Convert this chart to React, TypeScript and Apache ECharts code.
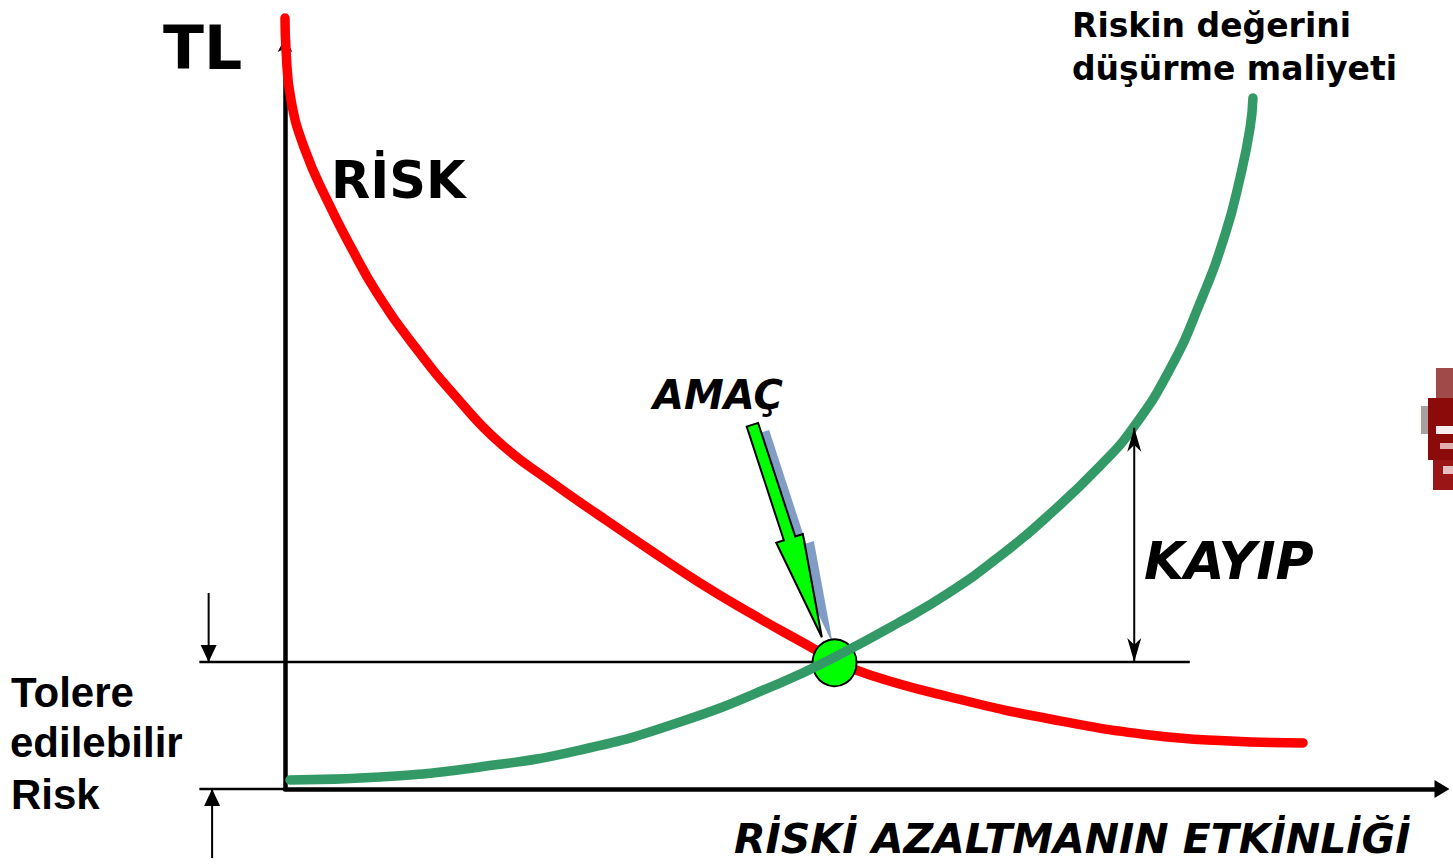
import { useEffect, useRef } from "react";
import * as echarts from "echarts";

// ---- data (x: risk reduction effectiveness 0..100, y: TL 0..100) ----
const riskX = [0, 0.09, 0.52, 1.73, 3.63, 5.79, 7.95, 11.24, 14.87, 18.58, 22.9, 27.23, 31.55, 35.87, 40.19, 44.51, 47.54, 50.56, 57.48, 66.12, 74.76, 81.68, 87.99];
const riskY = [102.66, 98.4, 91.74, 85.09, 78.43, 71.9, 66.05, 58.86, 52.06, 46.07, 41.01, 36.35, 31.82, 27.43, 23.44, 19.71, 17.18, 15.18, 12.25, 9.32, 7.19, 6.39, 6.13];

const costX = [0.43, 8.21, 16.85, 25.5, 34.14, 42.78, 47.54, 53.15, 57.48, 61.8, 66.12, 70.44, 73.29, 76.49, 79.08, 81.24, 82.54, 83.41, 83.66];
const costY = [1.2, 1.6, 2.93, 5.19, 8.92, 14.11, 17.58, 22.24, 26.23, 31.03, 36.62, 43.01, 48.07, 55.93, 64.71, 73.77, 81.36, 88.02, 92.01];

const toleranceLevel = 16.9;
const toleranceFrom = -7.4;
const toleranceTo = 78.2;
// [xFrom, xTo, y]
const guideLines = [
  [toleranceFrom, toleranceTo, toleranceLevel],
  [toleranceFrom, 0, 0],
];
const goalPoint = [47.5, 16.8];
const goalArrowTail = [40.4, 48.5];
const goalArrowTip = [46.4, 20.2];
// [x, yFrom, yTo, kind] kind 0 = double barbed, 1 = single filled head at yTo
const dimensionArrows = [
  [73.4, 48.1, 16.9, 0],
  [-6.6, 26.1, 16.9, 1],
  [-6.3, -9.2, 0, 1],
];

const yAxisTitle = "TL";
const xAxisTitle = "RİSKİ AZALTMANIN ETKİNLİĞİ";
const riskLabel = "RİSK";
const costLabel = ["Riskin değerini", "düşürme maliyeti"];
const toleranceLabel = ["Tolere", "edilebilir", "Risk"];
const goalLabel = "AMAÇ";
const lossLabel = "KAYIP";

function head(tip: number[], from: number[], len: number, half: number, notch: number) {
  const dx = tip[0] - from[0];
  const dy = tip[1] - from[1];
  const l = Math.hypot(dx, dy) || 1;
  const ux = dx / l, uy = dy / l;
  const nx = -uy, ny = ux;
  const bx = tip[0] - ux * len, by = tip[1] - uy * len;
  const pts: number[][] = [[tip[0], tip[1]], [bx + nx * half, by + ny * half]];
  if (notch > 0) pts.push([tip[0] - ux * len * notch, tip[1] - uy * len * notch]);
  pts.push([bx - nx * half, by - ny * half]);
  return pts;
}

function txt(text: string, x: number, y: number, font: string) {
  return {
    type: "text",
    silent: true,
    z: 20,
    style: {
      text, x, y, font, fill: "#000",
      align: "left", verticalAlign: "middle",
      textAlign: "left", textVerticalAlign: "middle",
    },
  };
}

export default function App() {
  const ref = useRef<HTMLDivElement>(null);
  useEffect(() => {
    if (!ref.current) return;
    const chart = echarts.init(ref.current, undefined, { renderer: "svg" });
    const vera = '"DejaVu Sans", Verdana, sans-serif';
    const arial = '"Liberation Sans", Arial, sans-serif';
    chart.setOption({
      animation: false,
      backgroundColor: "#fff",
      grid: { left: 285, top: 38, right: 11, bottom: 75 },
      xAxis: {
        type: "value", min: 0, max: 100,
        axisLine: { show: true, onZero: false, lineStyle: { color: "#000", width: 4.5 }, symbol: ["none", "triangle"], symbolSize: [18, 15] },
        axisTick: { show: false }, axisLabel: { show: false }, splitLine: { show: false },
      },
      yAxis: {
        type: "value", min: 0, max: 100,
        axisLine: { show: true, onZero: false, lineStyle: { color: "#000", width: 4.5 }, symbol: ["none", "arrow"], symbolSize: [11, 14] },
        axisTick: { show: false }, axisLabel: { show: false }, splitLine: { show: false },
      },
      series: [
        {
          name: "guides", type: "custom", clip: false, silent: true, z: 3,
          data: guideLines,
          renderItem: (_p: any, api: any) => {
            const a = api.coord([api.value(0), api.value(2)]);
            const b = api.coord([api.value(1), api.value(2)]);
            return { type: "line", shape: { x1: a[0], y1: a[1], x2: b[0], y2: b[1] }, style: { stroke: "#000", lineWidth: 2.5 } };
          },
        },
        {
          name: "risk", type: "line", clip: false, silent: true, z: 2,
          smooth: 0.5, showSymbol: false, symbol: "none",
          lineStyle: { color: "#ff0000", width: 9.5, cap: "round", join: "round" },
          data: riskX.map((x, i) => [x, riskY[i]]),
        },
        {
          name: "goalArrow", type: "custom", clip: false, silent: true, z: 3,
          data: [[goalArrowTail[0], goalArrowTail[1], goalArrowTip[0], goalArrowTip[1]]],
          renderItem: (_p: any, api: any) => {
            const tail = api.coord([api.value(0), api.value(1)]);
            const tip = api.coord([api.value(2), api.value(3)]);
            const dx = tip[0] - tail[0], dy = tip[1] - tail[1];
            const l = Math.hypot(dx, dy);
            const ux = dx / l, uy = dy / l, nx = -uy, ny = ux;
            const hl = 104, hh = 14, sh = 6;
            const bx = tip[0] - ux * hl, by = tip[1] - uy * hl;
            const pts = [
              [tip[0], tip[1]],
              [bx + nx * hh, by + ny * hh],
              [bx + nx * sh, by + ny * sh],
              [tail[0] + nx * sh, tail[1] + ny * sh],
              [tail[0] - nx * sh, tail[1] - ny * sh],
              [bx - nx * sh, by - ny * sh],
              [bx - nx * hh, by - ny * hh],
            ];
            const shadow = pts.map((p) => [p[0] + 11, p[1] + 7]);
            return {
              type: "group",
              children: [
                { type: "polygon", shape: { points: shadow }, style: { fill: "#819dc5" } },
                { type: "polygon", shape: { points: pts }, style: { fill: "#00ff00", stroke: "#000", lineWidth: 2, lineJoin: "miter" } },
              ],
            };
          },
        },
        {
          name: "goal", type: "scatter", silent: true, z: 4,
          symbol: "circle", symbolSize: [44, 47],
          itemStyle: { color: "#00ff00", borderColor: "#000", borderWidth: 2, opacity: 1 },
          data: [goalPoint],
        },
        {
          name: "cost", type: "line", clip: false, silent: true, z: 5,
          smooth: 0.5, showSymbol: false, symbol: "none",
          lineStyle: { color: "#339966", width: 9.5, cap: "round", join: "round" },
          data: costX.map((x, i) => [x, costY[i]]),
        },
        {
          name: "dims", type: "custom", clip: false, silent: true, z: 6,
          data: dimensionArrows,
          renderItem: (_p: any, api: any) => {
            const x = api.value(0), kind = api.value(3);
            const a = api.coord([x, api.value(1)]);
            const b = api.coord([x, api.value(2)]);
            const children: any[] = [
              { type: "line", shape: { x1: a[0], y1: a[1], x2: b[0], y2: b[1] }, style: { stroke: "#000", lineWidth: 2 } },
            ];
            if (kind === 0) {
              children.push({ type: "polygon", shape: { points: head(a, b, 24, 7, 0.72) }, style: { fill: "#000" } });
              children.push({ type: "polygon", shape: { points: head(b, a, 24, 7, 0.72) }, style: { fill: "#000" } });
            } else {
              children.push({ type: "polygon", shape: { points: head(b, a, 17, 8, 0) }, style: { fill: "#000" } });
            }
            return { type: "group", children };
          },
        },
      ],
      graphic: [
        txt(yAxisTitle, 163, 48, `bold 60px ${vera}`),
        txt(riskLabel, 331, 180, `bold 51px ${vera}`),
        txt(costLabel[0], 1072, 25, `bold 33px ${vera}`),
        txt(costLabel[1], 1072, 68, `bold 33px ${vera}`),
        txt(toleranceLabel[0], 11, 692, `bold 42px ${arial}`),
        txt(toleranceLabel[1], 10, 742, `bold 42px ${arial}`),
        txt(toleranceLabel[2], 11, 794, `bold 42px ${arial}`),
        txt(goalLabel, 653, 395, `italic bold 40px ${vera}`),
        txt(lossLabel, 1144, 561, `italic bold 52px ${vera}`),
        txt(xAxisTitle, 734, 839, `italic bold 41px ${vera}`),
        {
          type: "group", silent: true, z: 1,
          children: [
            { type: "rect", shape: { x: 1436, y: 368, width: 17, height: 30 }, style: { fill: "#a04a4a" } },
            { type: "rect", shape: { x: 1428, y: 398, width: 25, height: 62 }, style: { fill: "#8b0a0a" } },
            { type: "rect", shape: { x: 1421, y: 406, width: 7, height: 28 }, style: { fill: "#aaa0a0" } },
            { type: "rect", shape: { x: 1436, y: 426, width: 17, height: 8 }, style: { fill: "#f6eeee" } },
            { type: "rect", shape: { x: 1440, y: 443, width: 13, height: 6 }, style: { fill: "#e0b0b0" } },
            { type: "rect", shape: { x: 1433, y: 460, width: 20, height: 30 }, style: { fill: "#9a1515" } },
            { type: "rect", shape: { x: 1443, y: 466, width: 10, height: 8 }, style: { fill: "#e4c0c0" } },
          ],
        },
      ],
    });
    return () => chart.dispose();
  }, []);
  return <div ref={ref} style={{ position: "absolute", left: 0, top: 0, width: 1453, height: 864 }} />;
}
